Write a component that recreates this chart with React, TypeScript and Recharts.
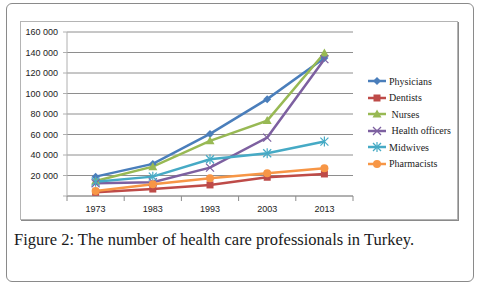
import React from 'react';
import { LineChart, Line, XAxis, YAxis, CartesianGrid } from 'recharts';

const years = ['1973', '1983', '1993', '2003', '2013'];
const physicians = [18900, 31300, 60600, 94500, 134600];
const dentists = [3600, 6800, 10800, 18300, 21500];
const nurses = [14700, 28600, 53800, 73600, 139500];
const healthOfficers = [12400, 13400, 27700, 57000, 133500];
const midwives = [14000, 18900, 35900, 41700, 53100];
const pharmacists = [4900, 11400, 17300, 22200, 27100];
const yTicks = [0, 20000, 40000, 60000, 80000, 100000, 120000, 140000, 160000];

type Shape = 'diamond' | 'square' | 'triangle' | 'x' | 'star' | 'circle';

const series: { key: string; name: string; color: string; shape: Shape; values: number[] }[] = [
  { key: 'physicians', name: 'Physicians', color: '#4A7EBB', shape: 'diamond', values: physicians },
  { key: 'dentists', name: 'Dentists', color: '#BE4B48', shape: 'square', values: dentists },
  { key: 'nurses', name: ' Nurses', color: '#98B954', shape: 'triangle', values: nurses },
  { key: 'healthOfficers', name: ' Health officers', color: '#7D60A0', shape: 'x', values: healthOfficers },
  { key: 'midwives', name: 'Midwives', color: '#46AAC5', shape: 'star', values: midwives },
  { key: 'pharmacists', name: 'Pharmacists', color: '#F79646', shape: 'circle', values: pharmacists },
];

const data = years.map((year, i) => {
  const row: Record<string, any> = { year };
  series.forEach((s) => (row[s.key] = s.values[i]));
  return row;
});

const W = 479;
const H = 286;
const margin = { top: 32, right: 126, left: 10, bottom: 70 };
const yAxisWidth = 57;
const band = (W - margin.left - yAxisWidth - margin.right) / years.length;

function Marker({ shape, color, cx, cy }: { shape: Shape; color: string; cx: number; cy: number }) {
  if (cx == null || cy == null) return null;
  switch (shape) {
    case 'diamond':
      return <path d={`M${cx},${cy - 4}L${cx + 4},${cy}L${cx},${cy + 4}L${cx - 4},${cy}Z`} fill={color} />;
    case 'square':
      return <rect x={cx - 3.5} y={cy - 3.5} width={7} height={7} fill={color} />;
    case 'triangle':
      return <path d={`M${cx},${cy - 4.5}L${cx + 4.5},${cy + 3.5}L${cx - 4.5},${cy + 3.5}Z`} fill={color} />;
    case 'x':
      return (
        <g stroke={color} strokeWidth={1.2}>
          <line x1={cx - 4} y1={cy - 4} x2={cx + 4} y2={cy + 4} />
          <line x1={cx - 4} y1={cy + 4} x2={cx + 4} y2={cy - 4} />
        </g>
      );
    case 'star':
      return (
        <g stroke={color} strokeWidth={1.2}>
          <line x1={cx - 4} y1={cy - 4} x2={cx + 4} y2={cy + 4} />
          <line x1={cx - 4} y1={cy + 4} x2={cx + 4} y2={cy - 4} />
          <line x1={cx} y1={cy - 5} x2={cx} y2={cy + 5} />
        </g>
      );
    default:
      return <circle cx={cx} cy={cy} r={4} fill={color} />;
  }
}

const fmt = (v: number) => (v === 0 ? '' : v.toLocaleString('en-US').replace(/,/g, ' '));

function YearTick(props: any) {
  const { x, y, payload, index } = props;
  const last = index === years.length - 1;
  return (
    <g>
      <line x1={x - band / 2} y1={y} x2={x - band / 2} y2={y + 5} stroke="#8c8c8c" />
      {last && <line x1={x + band / 2} y1={y} x2={x + band / 2} y2={y + 5} stroke="#8c8c8c" />}
      <text x={x} y={y + 16} textAnchor="middle" fontSize={9} fontFamily="Liberation Sans, Arial, sans-serif" fill="#222">
        {payload.value}
      </text>
    </g>
  );
}

export default function App() {
  return (
    <div style={{ position: 'absolute', left: 0, top: 0, width: W, height: H, background: '#fff' }}>
      <div
        style={{
          position: 'absolute',
          left: 6,
          top: 3,
          width: 466,
          height: 277,
          border: '1.5px solid #8a8a8a',
          borderRadius: 6,
        }}
      />
      <div
        style={{
          position: 'absolute',
          left: 20,
          top: 21,
          width: 436,
          height: 197,
          border: '1px solid #b4b4b4',
          boxShadow: '1px 1px 0 #8a8a8a',
        }}
      />
      <div style={{ position: 'absolute', left: 0, top: 0 }}>
        <LineChart width={W} height={H} data={data} margin={margin}>
          <CartesianGrid vertical={false} stroke="#8e8e8e" />
          <XAxis
            dataKey="year"
            height={20}
            padding={{ left: band / 2, right: band / 2 }}
            tickLine={false}
            tickSize={0}
            tickMargin={0}
            stroke="#9a9a9a"
            tick={<YearTick />}
            interval={0}
          />
          <YAxis
            width={yAxisWidth}
            domain={[0, 160000]}
            ticks={yTicks}
            tickFormatter={fmt}
            tickSize={4}
            tickMargin={5}
            stroke="#b0b0b0"
            tick={{ fontSize: 9, fill: '#222', fontFamily: 'Liberation Sans, Arial, sans-serif' }}
            interval={0}
          />
          {series.map((s) => (
            <Line
              key={s.key}
              dataKey={s.key}
              name={s.name}
              stroke={s.color}
              strokeWidth={2.5}
              isAnimationActive={false}
              dot={(p: any) => <Marker key={`${s.key}-${p.index}`} shape={s.shape} color={s.color} cx={p.cx} cy={p.cy} />}
              activeDot={false}
            />
          ))}
        </LineChart>
      </div>
      <div style={{ position: 'absolute', left: 367, top: 73 }}>
        {series.map((s) => (
          <div key={s.key} style={{ display: 'flex', alignItems: 'center', height: 16.5 }}>
            <svg width={20} height={12}>
              <line x1={1} y1={6} x2={19} y2={6} stroke={s.color} strokeWidth={2.5} />
              <Marker shape={s.shape} color={s.color} cx={10} cy={6} />
            </svg>
            <span
              style={{
                marginLeft: 2,
                fontFamily: 'Liberation Serif, Times New Roman, serif',
                fontSize: 10,
                color: '#222',
                whiteSpace: 'pre',
              }}
            >
              {s.name}
            </span>
          </div>
        ))}
      </div>
      <div
        style={{
          position: 'absolute',
          left: 14,
          top: 231,
          fontFamily: 'Liberation Serif, Times New Roman, serif',
          fontSize: 16.5,
          lineHeight: '17px',
          color: '#1a1a1a',
          whiteSpace: 'nowrap',
        }}
      >
        Figure 2: The number of health care professionals in Turkey.
      </div>
    </div>
  );
}
